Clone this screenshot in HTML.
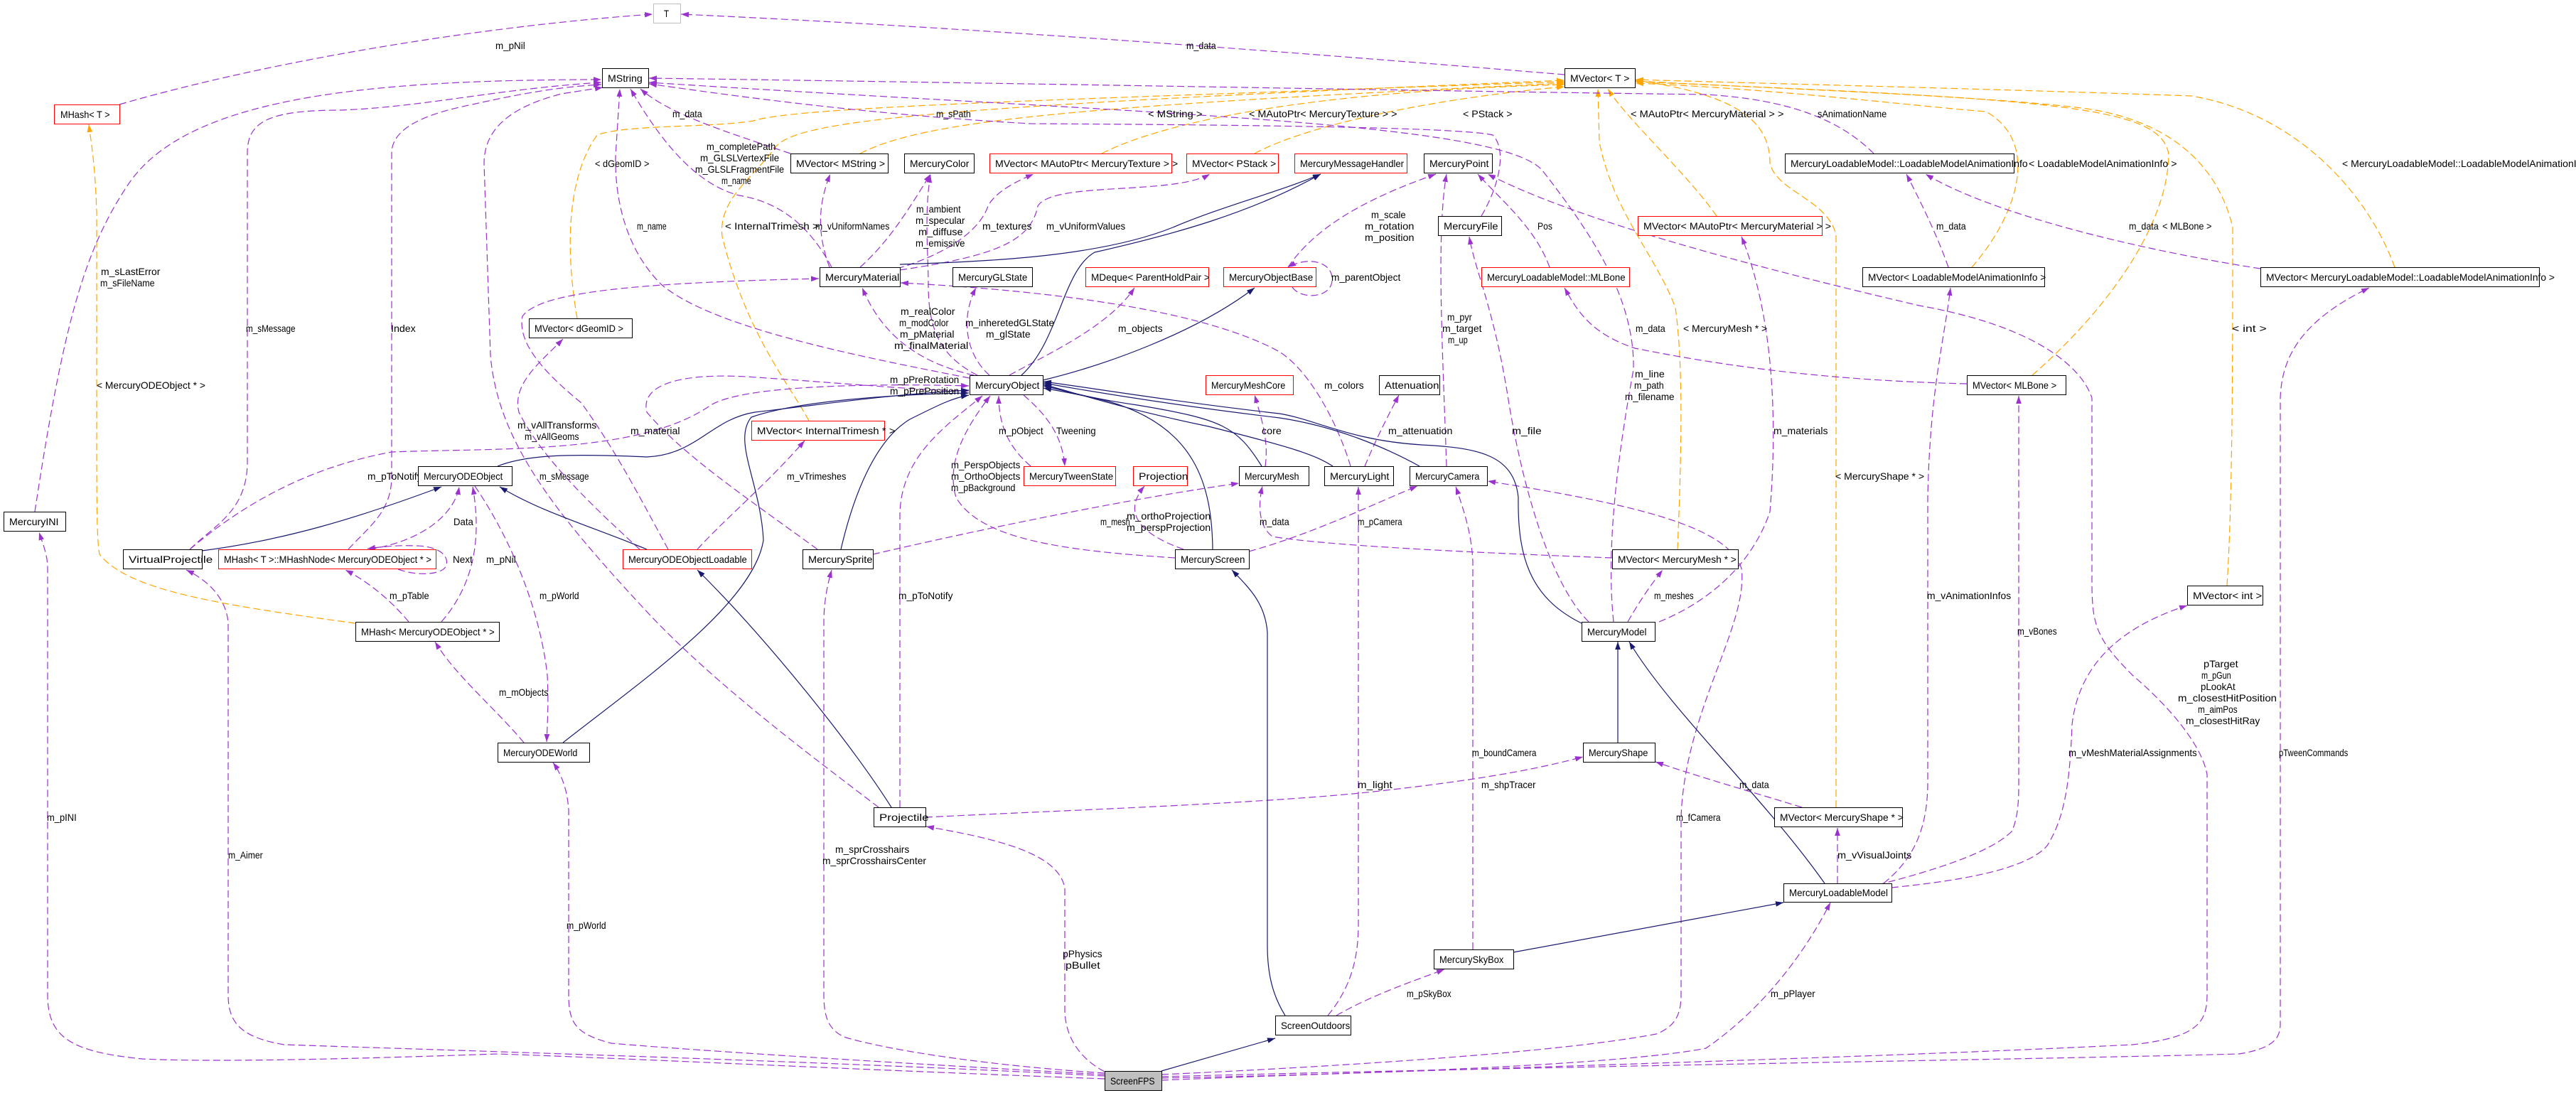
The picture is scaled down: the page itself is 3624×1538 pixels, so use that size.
<!DOCTYPE html>
<html><head><meta charset="utf-8"><style>
html,body{margin:0;padding:0;background:#fff;}
svg{display:block;}
.p{fill:none;stroke:#9a32cd;stroke-width:1.2;stroke-dasharray:10 5;marker-end:url(#ap);}
.o{fill:none;stroke:#ffa500;stroke-width:1.2;stroke-dasharray:10 5;marker-end:url(#ao);}
.n{fill:none;stroke:#191970;stroke-width:1.2;marker-end:url(#an);}
text{font-family:"Liberation Sans",sans-serif;font-size:14px;fill:#000;}
.b{fill:#fff;stroke:#000;stroke-width:1;}
.r{fill:#fff;stroke:#ff0000;stroke-width:1;}
.g{fill:#fff;stroke:#bfbfbf;stroke-width:1;}
.f{fill:#bfbfbf;stroke:#000;stroke-width:1;}
</style></head><body>
<svg width="3624" height="1538" viewBox="0 0 3624 1538" xmlns="http://www.w3.org/2000/svg">
<defs>
<marker id="ap" viewBox="0 0 10 7" refX="10" refY="3.5" markerWidth="11" markerHeight="8" markerUnits="userSpaceOnUse" orient="auto"><path d="M0,0 L10,3.5 L0,7 z" fill="#9a32cd"/></marker>
<marker id="ao" viewBox="0 0 10 7" refX="10" refY="3.5" markerWidth="11" markerHeight="8" markerUnits="userSpaceOnUse" orient="auto"><path d="M0,0 L10,3.5 L0,7 z" fill="#ffa500"/></marker>
<marker id="an" viewBox="0 0 10 7" refX="10" refY="3.5" markerWidth="11" markerHeight="8" markerUnits="userSpaceOnUse" orient="auto"><path d="M0,0 L10,3.5 L0,7 z" fill="#191970"/></marker>
</defs>
<rect width="3624" height="1538" fill="#fff"/>

<!-- orange template edges -->
<path class="o" d="M500,877 C300,850 180,830 140,780 C136,760 136,700 136,600 L136,300 C134,230 128,200 125,175"/>
<path class="o" d="M812,448 C800,380 790,260 840,190 C880,175 1000,180 1060,170 C1120,150 1500,140 2201,115"/>
<path class="o" d="M1210,216 C1300,170 1500,150 2201,117"/>
<path class="o" d="M1550,216 C1620,180 1800,130 2201,119"/>
<path class="o" d="M1765,216 C1850,170 2050,135 2201,122"/>
<path class="o" d="M1138,592 C1110,540 1050,470 1016,333 C1010,280 1060,250 1091,207 C1120,170 1300,150 2201,113"/>
<path class="o" d="M2415,304 C2370,240 2290,170 2262,125"/>
<path class="o" d="M2360,773 C2365,650 2369,520 2357,433 C2330,360 2270,300 2250,200 L2248,125"/>
<path class="o" d="M2583,1136 L2583,330 C2570,280 2500,270 2490,230 C2490,180 2460,135 2301,113"/>
<path class="o" d="M2774,376 C2840,300 2870,200 2794,157 C2700,150 2500,125 2301,117"/>
<path class="o" d="M2859,528 C2960,440 3050,320 3051,217 C3040,150 2900,140 2301,115"/>
<path class="o" d="M3133,824 C3141,700 3141,500 3141,320 C3120,230 3050,170 2936,153 C2800,135 2500,125 2301,114"/>
<path class="o" d="M3369,376 C3330,270 3230,160 3083,135 C2800,125 2500,118 2301,112"/>

<!-- purple usage edges -->
<path class="p" d="M168,147 C400,80 700,35 918,20"/>
<path class="p" d="M2201,105 C1900,80 1400,40 958,20"/>
<path class="p" d="M49,720 C90,450 120,350 180,260 C260,140 500,112 846,112"/>
<path class="p" d="M267,773 C300,740 348,720 348,650 L348,215 C348,170 380,155 480,155 C600,150 700,125 846,116"/>
<path class="p" d="M490,773 C520,740 551,720 551,670 L551,215 C551,180 600,160 660,148 C740,130 790,122 846,119"/>
<path class="p" d="M1236,1136 C1150,1070 1000,960 900,850 C780,720 700,620 690,500 L681,230 C681,180 720,150 790,132 L848,123"/>
<path class="p" d="M1364,532 C1200,500 1000,460 930,400 C880,350 865,280 866,220 L872,125"/>
<path class="p" d="M1170,376 C1140,320 1100,285 1040,275 C980,260 930,200 887,125"/>
<path class="p" d="M1112,216 C1020,185 940,160 901,125"/>
<path class="p" d="M2636,216 C2590,170 2520,140 2400,133 C2000,128 1500,118 913,110"/>
<path class="p" d="M2084,304 C2110,260 2120,210 2100,190 C2060,180 1800,176 1450,174 C1200,160 1000,130 913,118"/>
<path class="p" d="M2270,875 C2258,760 2280,620 2298,520 C2300,420 2240,330 2170,240 C2110,170 1600,160 913,116"/>
<path class="p" d="M1210,376 C1250,340 1275,300 1309,245"/>
<path class="p" d="M1167,376 C1150,330 1150,290 1168,245"/>
<path class="p" d="M1262,378 C1340,355 1380,320 1390,290 C1400,270 1430,255 1454,245"/>
<path class="p" d="M1266,380 C1400,360 1450,340 1460,290 C1480,255 1650,275 1702,245"/>
<path class="p" d="M1392,528 C1360,500 1350,450 1373,405"/>
<path class="p" d="M1370,528 C1290,510 1240,470 1213,405"/>
<path class="p" d="M1375,528 C1320,500 1306,460 1306,400 C1306,360 1300,300 1309,246"/>
<path class="p" d="M1420,528 C1470,500 1560,460 1596,405"/>
<path class="p" d="M1818,404 C1830,422 1872,420 1874,395 C1876,368 1840,360 1812,376"/>
<path class="p" d="M1812,376 C1850,320 1920,280 2020,245"/>
<path class="p" d="M2035,656 C2030,500 2020,330 2035,245"/>
<path class="p" d="M2235,875 C2180,820 2140,680 2120,550 C2100,430 2075,380 2067,333"/>
<path class="p" d="M2180,376 C2160,320 2110,280 2079,245"/>
<path class="p" d="M1634,1520 C2000,1505 2600,1490 3000,1470 C3090,1460 3105,1440 3105,1400 L3105,1090 C3100,1060 3070,1010 3000,950 C2950,900 2943,880 2943,820 L2943,560 C2930,520 2870,460 2700,430 C2400,360 2200,300 2093,245"/>
<path class="p" d="M2767,540 C2550,535 2400,510 2300,490 C2240,470 2220,440 2201,405"/>
<path class="p" d="M2334,875 C2420,840 2470,780 2490,720 C2500,600 2497,450 2450,333"/>
<path class="p" d="M2290,875 C2310,840 2325,820 2339,802"/>
<path class="p" d="M2741,376 C2725,330 2700,280 2682,245"/>
<path class="p" d="M3180,378 C3000,350 2800,300 2709,245"/>
<path class="p" d="M2650,1243 C2690,1210 2712,1170 2712,1100 L2712,700 C2715,550 2735,480 2744,405"/>
<path class="p" d="M1634,1515 C2200,1500 2900,1490 3150,1483 C3200,1475 3208,1460 3208,1440 L3208,560 C3210,500 3240,450 3333,405"/>
<path class="p" d="M2642,1245 C2720,1225 2800,1200 2830,1170 C2840,1150 2840,1120 2840,1100 L2840,557"/>
<path class="p" d="M2661,1249 C2750,1240 2850,1225 2880,1190 C2905,1150 2912,1100 2915,1020 C2925,930 2990,880 3077,852"/>
<path class="p" d="M2585,1243 L2585,1165"/>
<path class="p" d="M2535,1136 C2450,1110 2380,1090 2329,1072"/>
<path class="p" d="M1302,1150 C1500,1140 1800,1130 1950,1112 C2100,1095 2170,1080 2227,1065"/>
<path class="p" d="M1868,1429 C1900,1390 1911,1350 1911,1300 L1911,685"/>
<path class="p" d="M2072,1336 L2072,790 C2070,750 2060,720 2048,685"/>
<path class="p" d="M1880,1429 C1930,1400 1990,1380 2032,1364"/>
<path class="p" d="M1634,1512 C1900,1500 2200,1480 2330,1455 C2355,1445 2365,1430 2365,1400 L2365,1150 C2370,1000 2460,880 2450,800 C2430,740 2300,710 2093,677"/>
<path class="p" d="M1634,1517 C2000,1510 2300,1495 2400,1475 C2480,1420 2540,1340 2575,1270"/>
<path class="p" d="M1554,1518 C1200,1505 900,1490 700,1483 C500,1490 300,1495 200,1490 C100,1480 67,1460 67,1400 L67,800 C67,780 60,765 55,749"/>
<path class="p" d="M1554,1514 C1200,1495 700,1480 400,1470 C340,1460 321,1440 321,1400 L321,880 C321,850 300,820 262,802"/>
<path class="p" d="M1554,1512 C1300,1498 1000,1480 860,1468 C810,1455 800,1440 800,1400 L800,1140 C798,1110 790,1090 778,1073"/>
<path class="p" d="M1554,1510 C1400,1500 1260,1480 1190,1460 C1165,1450 1159,1430 1159,1400 L1159,870 C1160,840 1165,820 1170,802"/>
<path class="p" d="M1554,1508 C1520,1490 1498,1460 1498,1420 L1498,1250 C1490,1200 1400,1180 1303,1163"/>
<path class="p" d="M1266,1136 L1266,720 C1270,640 1330,600 1382,557"/>
<path class="p" d="M1450,656 C1420,630 1405,600 1405,557"/>
<path class="p" d="M1440,556 C1480,590 1495,620 1498,656"/>
<path class="p" d="M1653,785 C1500,775 1380,760 1345,700 C1330,650 1360,600 1393,557"/>
<path class="p" d="M1665,773 C1600,750 1580,720 1610,684"/>
<path class="p" d="M1228,780 C1400,740 1600,700 1743,680"/>
<path class="p" d="M2268,785 C2000,775 1850,765 1790,755 C1770,740 1770,710 1776,684"/>
<path class="p" d="M1757,776 C1850,750 1930,710 1994,684"/>
<path class="p" d="M1780,656 C1785,620 1775,590 1765,556"/>
<path class="p" d="M1920,656 C1935,620 1950,590 1968,556"/>
<path class="p" d="M1900,656 C1880,590 1840,520 1800,495 C1700,440 1500,410 1267,398"/>
<path class="p" d="M981,773 C1020,730 1080,680 1132,620"/>
<path class="p" d="M940,773 C900,700 870,640 818,567 C760,520 728,480 735,445 C760,410 900,398 1152,392"/>
<path class="p" d="M900,773 C820,700 760,640 730,580 C720,540 760,510 792,477"/>
<path class="p" d="M267,773 C330,720 420,660 551,636 C700,630 900,640 1000,570 C1050,540 1250,540 1363,543"/>
<path class="p" d="M1150,773 C1050,700 960,640 910,580 C900,540 960,525 1050,530 C1200,540 1300,550 1363,550"/>
<path class="p" d="M520,773 C600,760 640,720 646,685"/>
<path class="p" d="M560,801 C590,812 625,808 628,795 C632,778 610,768 585,768 C560,767 540,769 517,772"/>
<path class="p" d="M575,875 C550,845 520,820 486,802"/>
<path class="p" d="M621,875 C660,830 680,770 665,685"/>
<path class="p" d="M737,1045 C700,1000 640,950 612,903"/>
<path class="p" d="M668,684 C720,760 760,860 770,950 C772,990 770,1020 769,1044"/>

<!-- navy inheritance edges -->
<path class="n" d="M700,656 C740,640 800,638 910,643 C980,640 1000,590 1062,580 C1150,570 1250,555 1363,549"/>
<path class="n" d="M284,775 C400,760 500,730 621,685"/>
<path class="n" d="M910,773 C830,740 760,720 703,685"/>
<path class="n" d="M1254,1136 C1200,1050 1080,900 981,802"/>
<path class="n" d="M792,1045 C900,960 1060,850 1074,760 C1070,680 1030,620 1057,587 C1120,565 1250,555 1363,553"/>
<path class="n" d="M1183,773 C1200,700 1230,620 1280,590 C1320,570 1340,560 1363,556"/>
<path class="n" d="M1706,773 C1705,680 1680,600 1560,565 C1520,555 1490,550 1468,546"/>
<path class="n" d="M1775,656 C1740,600 1720,590 1600,570 C1530,560 1500,550 1468,543"/>
<path class="n" d="M1875,656 C1850,640 1820,630 1700,600 C1580,575 1520,555 1468,541"/>
<path class="n" d="M1997,656 C1950,630 1880,600 1800,588 C1650,570 1530,550 1468,539"/>
<path class="n" d="M2225,877 C2150,840 2135,780 2136,700 C2130,640 2080,630 2000,626 C1900,620 1850,590 1800,582 C1650,565 1530,545 1468,537"/>
<path class="n" d="M1467,535 C1550,515 1680,470 1765,405"/>
<path class="n" d="M1437,528 C1490,480 1495,380 1540,355 C1650,330 1760,300 1858,245"/>
<path class="n" d="M1266,372 C1400,368 1550,360 1650,320 C1720,290 1800,270 1858,245"/>
<path class="n" d="M2567,1243 C2480,1120 2350,1000 2292,903"/>
<path class="n" d="M2276,1045 L2276,903"/>
<path class="n" d="M2129,1340 L2509,1270"/>
<path class="n" d="M1808,1429 C1790,1400 1783,1370 1783,1330 L1783,890 C1780,850 1760,830 1733,802"/>
<path class="n" d="M1634,1507 L1794,1461"/>

<!-- edge labels -->
<g>
<text x="697" y="69" textLength="41.7" lengthAdjust="spacingAndGlyphs">m_pNil</text>
<text x="1669" y="69" textLength="41.7" lengthAdjust="spacingAndGlyphs">m_data</text>
<text x="946" y="165" textLength="41.7" lengthAdjust="spacingAndGlyphs">m_data</text>
<text x="1317" y="165" textLength="48.7" lengthAdjust="spacingAndGlyphs">m_sPath</text>
<text x="1615" y="165" textLength="76.5" lengthAdjust="spacingAndGlyphs">&lt; MString &gt;</text>
<text x="1757" y="165" textLength="208.5" lengthAdjust="spacingAndGlyphs">&lt; MAutoPtr&lt; MercuryTexture &gt; &gt;</text>
<text x="2058" y="165" textLength="69.5" lengthAdjust="spacingAndGlyphs">&lt; PStack &gt;</text>
<text x="2294" y="165" textLength="215.5" lengthAdjust="spacingAndGlyphs">&lt; MAutoPtr&lt; MercuryMaterial &gt; &gt;</text>
<text x="2557" y="165" textLength="97.3" lengthAdjust="spacingAndGlyphs">sAnimationName</text>
<text x="994" y="211" textLength="97.3" lengthAdjust="spacingAndGlyphs">m_completePath</text>
<text x="985" y="227" textLength="111.2" lengthAdjust="spacingAndGlyphs">m_GLSLVertexFile</text>
<text x="978" y="243" textLength="125.1" lengthAdjust="spacingAndGlyphs">m_GLSLFragmentFile</text>
<text x="1015" y="259" textLength="41.7" lengthAdjust="spacingAndGlyphs">m_name</text>
<text x="837" y="235" textLength="76.5" lengthAdjust="spacingAndGlyphs">&lt; dGeomID &gt;</text>
<text x="2854" y="235" textLength="208.5" lengthAdjust="spacingAndGlyphs">&lt; LoadableModelAnimationInfo &gt;</text>
<text x="3295" y="235" textLength="361.4" lengthAdjust="spacingAndGlyphs">&lt; MercuryLoadableModel::LoadableModelAnimationInfo &gt;</text>
<text x="1289" y="299" textLength="62.6" lengthAdjust="spacingAndGlyphs">m_ambient</text>
<text x="1288" y="315" textLength="69.5" lengthAdjust="spacingAndGlyphs">m_specular</text>
<text x="1292" y="331" textLength="62.6" lengthAdjust="spacingAndGlyphs">m_diffuse</text>
<text x="1288" y="347" textLength="69.5" lengthAdjust="spacingAndGlyphs">m_emissive</text>
<text x="1929" y="307" textLength="48.7" lengthAdjust="spacingAndGlyphs">m_scale</text>
<text x="1920" y="323" textLength="69.5" lengthAdjust="spacingAndGlyphs">m_rotation</text>
<text x="1920" y="339" textLength="69.5" lengthAdjust="spacingAndGlyphs">m_position</text>
<text x="896" y="323" textLength="41.7" lengthAdjust="spacingAndGlyphs">m_name</text>
<text x="1020" y="323" textLength="132" lengthAdjust="spacingAndGlyphs">&lt; InternalTrimesh &gt;</text>
<text x="1147" y="323" textLength="104.3" lengthAdjust="spacingAndGlyphs">m_vUniformNames</text>
<text x="1382" y="323" textLength="69.5" lengthAdjust="spacingAndGlyphs">m_textures</text>
<text x="1472" y="323" textLength="111.2" lengthAdjust="spacingAndGlyphs">m_vUniformValues</text>
<text x="2163" y="323" textLength="20.9" lengthAdjust="spacingAndGlyphs">Pos</text>
<text x="2724" y="323" textLength="41.7" lengthAdjust="spacingAndGlyphs">m_data</text>
<text x="2995" y="323" textLength="41.7" lengthAdjust="spacingAndGlyphs">m_data</text>
<text x="3042" y="323" textLength="69.5" lengthAdjust="spacingAndGlyphs">&lt; MLBone &gt;</text>
<text x="142" y="387" textLength="83.4" lengthAdjust="spacingAndGlyphs">m_sLastError</text>
<text x="141" y="403" textLength="76.5" lengthAdjust="spacingAndGlyphs">m_sFileName</text>
<text x="1873" y="395" textLength="97.3" lengthAdjust="spacingAndGlyphs">m_parentObject</text>
<text x="1267" y="443" textLength="76.5" lengthAdjust="spacingAndGlyphs">m_realColor</text>
<text x="1265" y="459" textLength="69.5" lengthAdjust="spacingAndGlyphs">m_modColor</text>
<text x="1266" y="475" textLength="76.5" lengthAdjust="spacingAndGlyphs">m_pMaterial</text>
<text x="1258" y="491" textLength="104.3" lengthAdjust="spacingAndGlyphs">m_finalMaterial</text>
<text x="1358" y="459" textLength="125.1" lengthAdjust="spacingAndGlyphs">m_inheretedGLState</text>
<text x="1387" y="475" textLength="62.6" lengthAdjust="spacingAndGlyphs">m_glState</text>
<text x="1573" y="467" textLength="62.6" lengthAdjust="spacingAndGlyphs">m_objects</text>
<text x="2036" y="451" textLength="34.8" lengthAdjust="spacingAndGlyphs">m_pyr</text>
<text x="2029" y="467" textLength="55.6" lengthAdjust="spacingAndGlyphs">m_target</text>
<text x="2037" y="483" textLength="27.8" lengthAdjust="spacingAndGlyphs">m_up</text>
<text x="2301" y="467" textLength="41.7" lengthAdjust="spacingAndGlyphs">m_data</text>
<text x="2368" y="467" textLength="118.2" lengthAdjust="spacingAndGlyphs">&lt; MercuryMesh * &gt;</text>
<text x="3140" y="467" textLength="48.7" lengthAdjust="spacingAndGlyphs">&lt; int &gt;</text>
<text x="346" y="467" textLength="69.5" lengthAdjust="spacingAndGlyphs">m_sMessage</text>
<text x="550" y="467" textLength="34.8" lengthAdjust="spacingAndGlyphs">Index</text>
<text x="2300" y="531" textLength="41.7" lengthAdjust="spacingAndGlyphs">m_line</text>
<text x="2299" y="547" textLength="41.7" lengthAdjust="spacingAndGlyphs">m_path</text>
<text x="2286" y="563" textLength="69.5" lengthAdjust="spacingAndGlyphs">m_filename</text>
<text x="1252" y="539" textLength="97.3" lengthAdjust="spacingAndGlyphs">m_pPreRotation</text>
<text x="1252" y="555" textLength="97.3" lengthAdjust="spacingAndGlyphs">m_pPrePosition</text>
<text x="136" y="547" textLength="152.9" lengthAdjust="spacingAndGlyphs">&lt; MercuryODEObject * &gt;</text>
<text x="1863" y="547" textLength="55.6" lengthAdjust="spacingAndGlyphs">m_colors</text>
<text x="728" y="603" textLength="111.2" lengthAdjust="spacingAndGlyphs">m_vAllTransforms</text>
<text x="738" y="619" textLength="76.5" lengthAdjust="spacingAndGlyphs">m_vAllGeoms</text>
<text x="887" y="611" textLength="69.5" lengthAdjust="spacingAndGlyphs">m_material</text>
<text x="1405" y="611" textLength="62.6" lengthAdjust="spacingAndGlyphs">m_pObject</text>
<text x="1486" y="611" textLength="55.6" lengthAdjust="spacingAndGlyphs">Tweening</text>
<text x="1775" y="611" textLength="27.8" lengthAdjust="spacingAndGlyphs">core</text>
<text x="1953" y="611" textLength="90.4" lengthAdjust="spacingAndGlyphs">m_attenuation</text>
<text x="2127" y="611" textLength="41.7" lengthAdjust="spacingAndGlyphs">m_file</text>
<text x="2495" y="611" textLength="76.5" lengthAdjust="spacingAndGlyphs">m_materials</text>
<text x="1338" y="659" textLength="97.3" lengthAdjust="spacingAndGlyphs">m_PerspObjects</text>
<text x="1338" y="675" textLength="97.3" lengthAdjust="spacingAndGlyphs">m_OrthoObjects</text>
<text x="1338" y="691" textLength="90.4" lengthAdjust="spacingAndGlyphs">m_pBackground</text>
<text x="517" y="675" textLength="76.5" lengthAdjust="spacingAndGlyphs">m_pToNotify</text>
<text x="1107" y="675" textLength="83.4" lengthAdjust="spacingAndGlyphs">m_vTrimeshes</text>
<text x="759" y="675" textLength="69.5" lengthAdjust="spacingAndGlyphs">m_sMessage</text>
<text x="2582" y="675" textLength="125.1" lengthAdjust="spacingAndGlyphs">&lt; MercuryShape * &gt;</text>
<text x="638" y="739" textLength="27.8" lengthAdjust="spacingAndGlyphs">Data</text>
<text x="1548" y="739" textLength="41.7" lengthAdjust="spacingAndGlyphs">m_mesh</text>
<text x="1585" y="731" textLength="118.2" lengthAdjust="spacingAndGlyphs">m_orthoProjection</text>
<text x="1585" y="747" textLength="118.2" lengthAdjust="spacingAndGlyphs">m_perspProjection</text>
<text x="1772" y="739" textLength="41.7" lengthAdjust="spacingAndGlyphs">m_data</text>
<text x="1910" y="739" textLength="62.6" lengthAdjust="spacingAndGlyphs">m_pCamera</text>
<text x="637" y="792" textLength="27.8" lengthAdjust="spacingAndGlyphs">Next</text>
<text x="684" y="792" textLength="41.7" lengthAdjust="spacingAndGlyphs">m_pNil</text>
<text x="548" y="843" textLength="55.6" lengthAdjust="spacingAndGlyphs">m_pTable</text>
<text x="759" y="843" textLength="55.6" lengthAdjust="spacingAndGlyphs">m_pWorld</text>
<text x="1264" y="843" textLength="76.5" lengthAdjust="spacingAndGlyphs">m_pToNotify</text>
<text x="2327" y="843" textLength="55.6" lengthAdjust="spacingAndGlyphs">m_meshes</text>
<text x="2711" y="843" textLength="118.2" lengthAdjust="spacingAndGlyphs">m_vAnimationInfos</text>
<text x="2838" y="893" textLength="55.6" lengthAdjust="spacingAndGlyphs">m_vBones</text>
<text x="3100" y="939" textLength="48.7" lengthAdjust="spacingAndGlyphs">pTarget</text>
<text x="3097" y="955" textLength="41.7" lengthAdjust="spacingAndGlyphs">m_pGun</text>
<text x="3096" y="971" textLength="48.7" lengthAdjust="spacingAndGlyphs">pLookAt</text>
<text x="3064" y="987" textLength="139" lengthAdjust="spacingAndGlyphs">m_closestHitPosition</text>
<text x="3092" y="1003" textLength="55.6" lengthAdjust="spacingAndGlyphs">m_aimPos</text>
<text x="3075" y="1019" textLength="104.3" lengthAdjust="spacingAndGlyphs">m_closestHitRay</text>
<text x="702" y="979" textLength="69.5" lengthAdjust="spacingAndGlyphs">m_mObjects</text>
<text x="2071" y="1064" textLength="90.4" lengthAdjust="spacingAndGlyphs">m_boundCamera</text>
<text x="2910" y="1064" textLength="180.7" lengthAdjust="spacingAndGlyphs">m_vMeshMaterialAssignments</text>
<text x="3206" y="1064" textLength="97.3" lengthAdjust="spacingAndGlyphs">pTweenCommands</text>
<text x="1910" y="1109" textLength="48.7" lengthAdjust="spacingAndGlyphs">m_light</text>
<text x="2084" y="1109" textLength="76.5" lengthAdjust="spacingAndGlyphs">m_shpTracer</text>
<text x="2447" y="1109" textLength="41.7" lengthAdjust="spacingAndGlyphs">m_data</text>
<text x="66" y="1155" textLength="41.7" lengthAdjust="spacingAndGlyphs">m_pINI</text>
<text x="2358" y="1155" textLength="62.6" lengthAdjust="spacingAndGlyphs">m_fCamera</text>
<text x="1175" y="1200" textLength="104.3" lengthAdjust="spacingAndGlyphs">m_sprCrosshairs</text>
<text x="1157" y="1216" textLength="146" lengthAdjust="spacingAndGlyphs">m_sprCrosshairsCenter</text>
<text x="321" y="1208" textLength="48.7" lengthAdjust="spacingAndGlyphs">m_Aimer</text>
<text x="2585" y="1208" textLength="104.3" lengthAdjust="spacingAndGlyphs">m_vVisualJoints</text>
<text x="797" y="1307" textLength="55.6" lengthAdjust="spacingAndGlyphs">m_pWorld</text>
<text x="1495" y="1347" textLength="55.6" lengthAdjust="spacingAndGlyphs">pPhysics</text>
<text x="1499" y="1363" textLength="48.7" lengthAdjust="spacingAndGlyphs">pBullet</text>
<text x="1979" y="1403" textLength="62.6" lengthAdjust="spacingAndGlyphs">m_pSkyBox</text>
<text x="2491" y="1403" textLength="62.6" lengthAdjust="spacingAndGlyphs">m_pPlayer</text>
</g>

<!-- nodes -->
<g>
<rect class="g" x="919.5" y="5.5" width="38" height="27"/><text x="934" y="24" textLength="7" lengthAdjust="spacingAndGlyphs">T</text>
<rect class="b" x="847.5" y="96.5" width="65" height="27"/><text x="855" y="115" textLength="48.7" lengthAdjust="spacingAndGlyphs">MString</text>
<rect class="b" x="2201.5" y="96.5" width="99" height="27"/><text x="2209" y="115" textLength="83.4" lengthAdjust="spacingAndGlyphs">MVector&lt; T &gt;</text>
<rect class="r" x="76.5" y="147.5" width="92" height="27"/><text x="85" y="166" textLength="69.5" lengthAdjust="spacingAndGlyphs">MHash&lt; T &gt;</text>
<rect class="b" x="1112.5" y="216.5" width="137" height="27"/><text x="1120" y="235" textLength="125.1" lengthAdjust="spacingAndGlyphs">MVector&lt; MString &gt;</text>
<rect class="b" x="1272.5" y="216.5" width="98" height="27"/><text x="1280" y="235" textLength="83.4" lengthAdjust="spacingAndGlyphs">MercuryColor</text>
<rect class="r" x="1392.5" y="216.5" width="256" height="27"/><text x="1400" y="235" textLength="257.2" lengthAdjust="spacingAndGlyphs">MVector&lt; MAutoPtr&lt; MercuryTexture &gt; &gt;</text>
<rect class="r" x="1669.5" y="216.5" width="129" height="27"/><text x="1677" y="235" textLength="118.2" lengthAdjust="spacingAndGlyphs">MVector&lt; PStack &gt;</text>
<rect class="r" x="1821.5" y="216.5" width="158" height="27"/><text x="1829" y="235" textLength="146" lengthAdjust="spacingAndGlyphs">MercuryMessageHandler</text>
<rect class="b" x="2003.5" y="216.5" width="96" height="27"/><text x="2011" y="235" textLength="83.4" lengthAdjust="spacingAndGlyphs">MercuryPoint</text>
<rect class="b" x="2511.5" y="216.5" width="322" height="27"/><text x="2519" y="235" textLength="333.6" lengthAdjust="spacingAndGlyphs">MercuryLoadableModel::LoadableModelAnimationInfo</text>
<rect class="b" x="2023.5" y="304.5" width="89" height="27"/><text x="2031" y="323" textLength="76.5" lengthAdjust="spacingAndGlyphs">MercuryFile</text>
<rect class="r" x="2304.5" y="304.5" width="259" height="27"/><text x="2312" y="323" textLength="264.1" lengthAdjust="spacingAndGlyphs">MVector&lt; MAutoPtr&lt; MercuryMaterial &gt; &gt;</text>
<rect class="b" x="1153.5" y="376.5" width="113" height="27"/><text x="1161" y="395" textLength="104.3" lengthAdjust="spacingAndGlyphs">MercuryMaterial</text>
<rect class="b" x="1340.5" y="376.5" width="112" height="27"/><text x="1348" y="395" textLength="97.3" lengthAdjust="spacingAndGlyphs">MercuryGLState</text>
<rect class="r" x="1527.5" y="376.5" width="173" height="27"/><text x="1535" y="395" textLength="166.8" lengthAdjust="spacingAndGlyphs">MDeque&lt; ParentHoldPair &gt;</text>
<rect class="r" x="1721.5" y="376.5" width="130" height="27"/><text x="1729" y="395" textLength="118.2" lengthAdjust="spacingAndGlyphs">MercuryObjectBase</text>
<rect class="r" x="2084.5" y="376.5" width="208" height="27"/><text x="2092" y="395" textLength="194.6" lengthAdjust="spacingAndGlyphs">MercuryLoadableModel::MLBone</text>
<rect class="b" x="2620.5" y="376.5" width="256" height="27"/><text x="2628" y="395" textLength="250.2" lengthAdjust="spacingAndGlyphs">MVector&lt; LoadableModelAnimationInfo &gt;</text>
<rect class="b" x="3180.5" y="376.5" width="392" height="27"/><text x="3188" y="395" textLength="406" lengthAdjust="spacingAndGlyphs">MVector&lt; MercuryLoadableModel::LoadableModelAnimationInfo &gt;</text>
<rect class="b" x="744.5" y="448.5" width="145" height="27"/><text x="752" y="467" textLength="125.1" lengthAdjust="spacingAndGlyphs">MVector&lt; dGeomID &gt;</text>
<rect class="b" x="1364.5" y="528.5" width="103" height="27"/><text x="1372" y="547" textLength="90.4" lengthAdjust="spacingAndGlyphs">MercuryObject</text>
<rect class="r" x="1696.5" y="528.5" width="123" height="27"/><text x="1704" y="547" textLength="104.3" lengthAdjust="spacingAndGlyphs">MercuryMeshCore</text>
<rect class="b" x="1940.5" y="528.5" width="85" height="27"/><text x="1948" y="547" textLength="76.5" lengthAdjust="spacingAndGlyphs">Attenuation</text>
<rect class="b" x="2767.5" y="528.5" width="139" height="27"/><text x="2775" y="547" textLength="118.2" lengthAdjust="spacingAndGlyphs">MVector&lt; MLBone &gt;</text>
<rect class="r" x="1057.5" y="592.5" width="187" height="27"/><text x="1065" y="611" textLength="194.6" lengthAdjust="spacingAndGlyphs">MVector&lt; InternalTrimesh * &gt;</text>
<rect class="b" x="588.5" y="656.5" width="132" height="27"/><text x="596" y="675" textLength="111.2" lengthAdjust="spacingAndGlyphs">MercuryODEObject</text>
<rect class="r" x="1440.5" y="656.5" width="129" height="27"/><text x="1448" y="675" textLength="118.2" lengthAdjust="spacingAndGlyphs">MercuryTweenState</text>
<rect class="r" x="1594.5" y="656.5" width="76" height="27"/><text x="1602" y="675" textLength="69.5" lengthAdjust="spacingAndGlyphs">Projection</text>
<rect class="b" x="1743.5" y="656.5" width="98" height="27"/><text x="1751" y="675" textLength="76.5" lengthAdjust="spacingAndGlyphs">MercuryMesh</text>
<rect class="b" x="1863.5" y="656.5" width="97" height="27"/><text x="1871" y="675" textLength="83.4" lengthAdjust="spacingAndGlyphs">MercuryLight</text>
<rect class="b" x="1983.5" y="656.5" width="109" height="27"/><text x="1991" y="675" textLength="90.4" lengthAdjust="spacingAndGlyphs">MercuryCamera</text>
<rect class="b" x="5.5" y="720.5" width="87" height="27"/><text x="13" y="739" textLength="69.5" lengthAdjust="spacingAndGlyphs">MercuryINI</text>
<rect class="b" x="173.5" y="773.5" width="111" height="27"/><text x="181" y="792" textLength="118.2" lengthAdjust="spacingAndGlyphs">VirtualProjectile</text>
<rect class="r" x="307.5" y="773.5" width="306" height="27"/><text x="315" y="792" textLength="291.9" lengthAdjust="spacingAndGlyphs">MHash&lt; T &gt;::MHashNode&lt; MercuryODEObject * &gt;</text>
<rect class="r" x="876.5" y="773.5" width="181" height="27"/><text x="884" y="792" textLength="166.8" lengthAdjust="spacingAndGlyphs">MercuryODEObjectLoadable</text>
<rect class="b" x="1129.5" y="773.5" width="99" height="27"/><text x="1137" y="792" textLength="90.4" lengthAdjust="spacingAndGlyphs">MercurySprite</text>
<rect class="b" x="1653.5" y="773.5" width="104" height="27"/><text x="1661" y="792" textLength="90.4" lengthAdjust="spacingAndGlyphs">MercuryScreen</text>
<rect class="b" x="2268.5" y="773.5" width="177" height="27"/><text x="2276" y="792" textLength="166.8" lengthAdjust="spacingAndGlyphs">MVector&lt; MercuryMesh * &gt;</text>
<rect class="b" x="3077.5" y="824.5" width="106" height="27"/><text x="3085" y="843" textLength="97.3" lengthAdjust="spacingAndGlyphs">MVector&lt; int &gt;</text>
<rect class="b" x="500.5" y="875.5" width="202" height="27"/><text x="508" y="894" textLength="187.7" lengthAdjust="spacingAndGlyphs">MHash&lt; MercuryODEObject * &gt;</text>
<rect class="b" x="2225.5" y="875.5" width="103" height="27"/><text x="2233" y="894" textLength="83.4" lengthAdjust="spacingAndGlyphs">MercuryModel</text>
<rect class="b" x="700.5" y="1045.5" width="129" height="27"/><text x="708" y="1064" textLength="104.3" lengthAdjust="spacingAndGlyphs">MercuryODEWorld</text>
<rect class="b" x="2227.5" y="1045.5" width="101" height="27"/><text x="2235" y="1064" textLength="83.4" lengthAdjust="spacingAndGlyphs">MercuryShape</text>
<rect class="b" x="1229.5" y="1136.5" width="73" height="27"/><text x="1237" y="1155" textLength="69.5" lengthAdjust="spacingAndGlyphs">Projectile</text>
<rect class="b" x="2496.5" y="1136.5" width="180" height="27"/><text x="2504" y="1155" textLength="173.8" lengthAdjust="spacingAndGlyphs">MVector&lt; MercuryShape * &gt;</text>
<rect class="b" x="2509.5" y="1243.5" width="152" height="26"/><text x="2517" y="1261" textLength="139" lengthAdjust="spacingAndGlyphs">MercuryLoadableModel</text>
<rect class="b" x="2017.5" y="1336.5" width="112" height="27"/><text x="2025" y="1355" textLength="90.4" lengthAdjust="spacingAndGlyphs">MercurySkyBox</text>
<rect class="b" x="1794.5" y="1429.5" width="106" height="27"/><text x="1802" y="1448" textLength="97.3" lengthAdjust="spacingAndGlyphs">ScreenOutdoors</text>
<rect class="f" x="1554.5" y="1507.5" width="80" height="27"/><text x="1562" y="1526" textLength="62.6" lengthAdjust="spacingAndGlyphs">ScreenFPS</text>
</g>
</svg>
</body></html>
